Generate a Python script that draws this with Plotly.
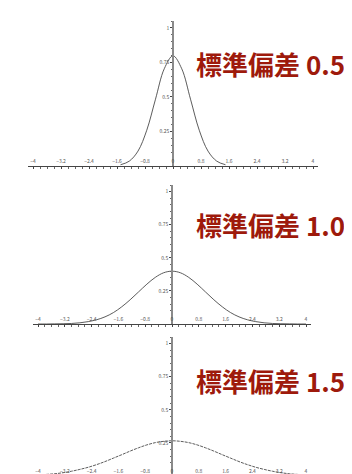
import plotly.graph_objects as go

x_narrow = [-1.5, -1.25, -1.0, -0.75, -0.5, -0.25, 0.0, 0.25, 0.5, 0.75, 1.0, 1.25, 1.5]
y_sd05 = [0.009, 0.035, 0.108, 0.259, 0.484, 0.704, 0.798, 0.704, 0.484, 0.259, 0.108, 0.035, 0.009]

x_wide = [-4.0, -3.75, -3.5, -3.25, -3.0, -2.75, -2.5, -2.25, -2.0, -1.75, -1.5, -1.25, -1.0,
          -0.75, -0.5, -0.25, 0.0, 0.25, 0.5, 0.75, 1.0, 1.25, 1.5, 1.75, 2.0, 2.25, 2.5,
          2.75, 3.0, 3.25, 3.5, 3.75, 4.0]
y_sd10 = [0.000, 0.000, 0.001, 0.002, 0.004, 0.009, 0.018, 0.032, 0.054, 0.086, 0.130, 0.183, 0.242,
          0.301, 0.352, 0.387, 0.399, 0.387, 0.352, 0.301, 0.242, 0.183, 0.130, 0.086, 0.054, 0.032,
          0.018, 0.009, 0.004, 0.002, 0.001, 0.000, 0.000]
y_sd15 = [0.008, 0.012, 0.017, 0.025, 0.036, 0.050, 0.066, 0.086, 0.109, 0.135, 0.161, 0.188, 0.213,
          0.235, 0.252, 0.262, 0.266, 0.262, 0.252, 0.235, 0.213, 0.188, 0.161, 0.135, 0.109, 0.086,
          0.066, 0.050, 0.036, 0.025, 0.017, 0.012, 0.008]

labels = ["標準偏差 0.5", "標準偏差 1.0", "標準偏差 1.5"]

W, H = 352, 474
XR = 4.15
# pixel positions of x=-4, x=4, y=0 and the top of each panel
boxes = [(25, 305, 158, 13), (30, 298, 316, 177), (30, 298, 468, 329)]
label_y = [55, 216, 372]

fig = go.Figure()
curves = [(x_narrow, y_sd05, "solid"), (x_wide, y_sd10, "solid"), (x_wide, y_sd15, "3px,1px")]
for i, (xs, ys, dash) in enumerate(curves):
    n = "" if i == 0 else str(i + 1)
    fig.add_scatter(x=xs, y=ys, mode="lines", line_shape="spline",
                    line=dict(color="#4a4a4a", width=0.9, dash=dash),
                    showlegend=False, hoverinfo="skip",
                    xaxis="x" + n, yaxis="y" + n)

for i, (l, r, b, t) in enumerate(boxes):
    n = "" if i == 0 else str(i + 1)
    ppu = (r - l) / 8
    xdom = [(l - (XR - 4) * ppu) / W, (r + (XR - 4) * ppu) / W]
    ydom = [1 - b / H, 1 - t / H]
    fig.update_layout(**{
        "xaxis" + n: dict(domain=xdom, range=[-XR, XR], anchor="y" + n,
                          tickmode="linear", tick0=0, dtick=0.8,
                          ticks="outside", ticklen=2, tickwidth=1, tickcolor="#444",
                          ticklabelposition="inside", tickfont=dict(size=5, color="#555"),
                          showgrid=False, zeroline=False,
                          showline=True, linecolor="#444", linewidth=1,
                          minor=dict(tickmode="linear", tick0=0, dtick=0.2, ticks="outside",
                                     ticklen=2, tickcolor="#666", showgrid=False)),
        "yaxis" + n: dict(domain=ydom, range=[0, 1.05], anchor="free",
                          position=(xdom[0] + xdom[1]) / 2,
                          tickmode="array", tickvals=[0.25, 0.5, 0.75, 1],
                          ticktext=["0.25", "0.5", "0.75", "1"],
                          ticks="outside", ticklen=2, tickcolor="#444",
                          tickfont=dict(size=5, color="#555"),
                          showgrid=False, zeroline=False,
                          showline=True, linecolor="#8a8a8a", linewidth=1.5,
                          minor=dict(tickmode="linear", tick0=0, dtick=0.05, ticks="outside",
                                     ticklen=1.5, tickcolor="#666", showgrid=False)),
    })
    fig.add_annotation(text="<b>%s</b>" % labels[i], xref="paper", yref="paper",
                       x=186 / W, y=1 - label_y[i] / H, xanchor="left", yanchor="middle",
                       showarrow=False,
                       font=dict(family="Noto Sans CJK JP", size=26, color="#9e1a0c"))

fig.update_layout(width=W, height=H, margin=dict(l=0, r=0, t=0, b=0),
                  paper_bgcolor="white", plot_bgcolor="white",
                  font=dict(family="Noto Sans CJK JP"))
fig.write_html("out.html")
